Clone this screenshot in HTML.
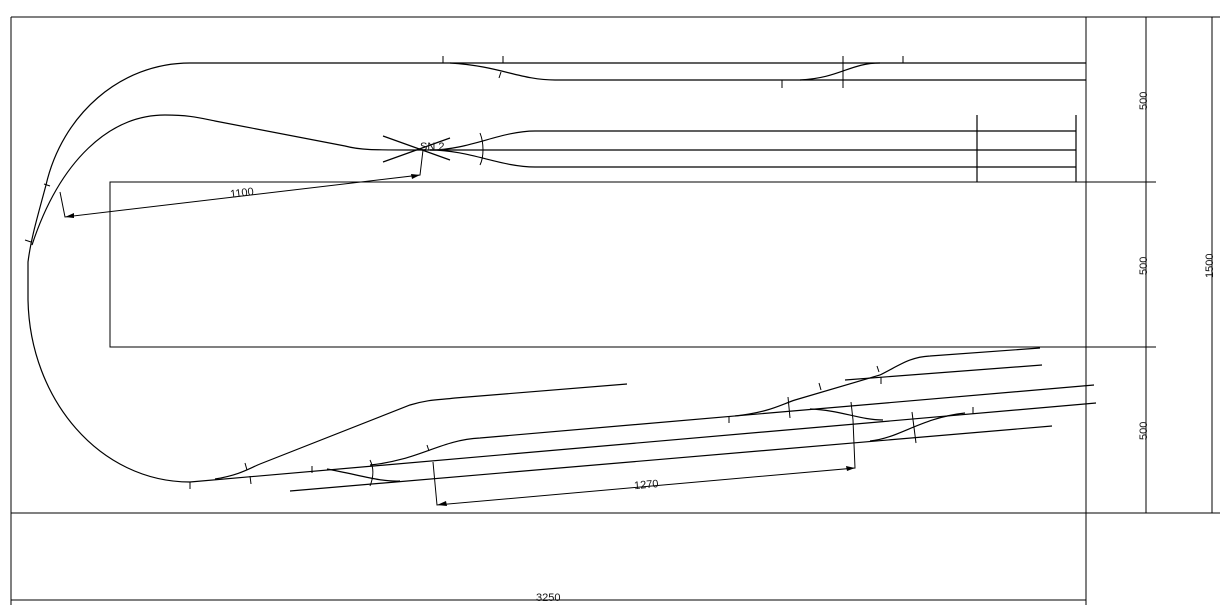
<!DOCTYPE html>
<html><head><meta charset="utf-8"><style>
html,body{margin:0;padding:0;background:#fff;}
svg{display:block;}
text{font-family:"Liberation Sans",sans-serif;font-size:11px;fill:#111;}
</style></head><body>
<svg width="1232" height="609" viewBox="0 0 1232 609" xmlns="http://www.w3.org/2000/svg">
<g fill="none" stroke="#000" stroke-width="1">
<!-- frame -->
<line x1="11" y1="17" x2="1220" y2="17"/>
<line x1="11" y1="513" x2="1220" y2="513"/>
<line x1="11" y1="17" x2="11" y2="605"/>
<line x1="1086" y1="17" x2="1086" y2="605"/>
<rect x="110" y="182" width="976" height="165"/>
<line x1="1086" y1="182" x2="1156" y2="182"/>
<line x1="1086" y1="347" x2="1156" y2="347"/>
<line x1="1146" y1="17" x2="1146" y2="513"/>
<line x1="1212" y1="17" x2="1212" y2="513"/>
<line x1="11" y1="600" x2="1086" y2="600"/>
</g>
<g fill="none" stroke="#000" stroke-width="1.2">
<!-- outer loop -->
<path d="M190,63 C120,63 62,115 46,185 C38,215 31,238 28,262 L28,300 C30,400 100,482 190,482"/>
<line x1="190" y1="63" x2="1086" y2="63"/>
<path d="M450,63 C500,66 520,80 555,80 L1086,80"/>
<path d="M800,80 C840,78 850,63 880,63"/>
<!-- inner loop -->
<path d="M32,245 C60,160 110,115 165,115 C190,115 200,118 215,121 L345,146 C360,150 370,150 420,150 L1076,150"/>
<path d="M430,150 C470,150 500,131 535,131 L1076,131"/>
<path d="M430,150 C470,150 500,167 535,167 L1076,167"/>
<line x1="383" y1="136" x2="450" y2="160"/>
<line x1="383" y1="162" x2="450" y2="138"/>
<line x1="977" y1="115" x2="977" y2="182"/>
<line x1="1076" y1="115" x2="1076" y2="182"/>
<!-- bottom tracks -->
<line x1="190" y1="482" x2="1096" y2="403"/>
<line x1="290" y1="491" x2="1052" y2="426"/>
<path d="M370,465 C420,460 440,440 480,438 L1094,385"/>
<path d="M215,479 C240,475 250,468 260,464 L410,405 C430,399 440,400 455,398 L627,384"/>
<path d="M327,469 C360,475 380,482 400,481"/>
<path d="M735,416 C770,412 780,405 795,400 L880,375 C900,365 910,357 930,356 L1040,348"/>
<line x1="845" y1="380" x2="1042" y2="365"/>
<path d="M810,409 C840,410 860,420 883,420"/>
<path d="M870,441 C900,438 920,418 965,413"/>
</g>
<g fill="none" stroke="#000" stroke-width="1">
<!-- ticks -->
<line x1="443" y1="56" x2="443" y2="63"/><line x1="503" y1="56" x2="503" y2="63"/>
<line x1="501" y1="72" x2="499" y2="78"/>
<line x1="843" y1="56" x2="843" y2="88"/><line x1="903" y1="56" x2="903" y2="63"/>
<line x1="782" y1="80" x2="782" y2="88"/>
<path d="M480,133 C484,143 484,157 480,165"/>
<line x1="44" y1="184" x2="50" y2="186"/>
<line x1="25" y1="240" x2="31" y2="242"/>
<line x1="190" y1="482" x2="190" y2="489"/>
<line x1="245" y1="463" x2="247" y2="470"/>
<line x1="250" y1="476" x2="251" y2="484"/>
<line x1="312" y1="466" x2="312" y2="473"/>
<path d="M370,460 C374,468 374,476 370,486"/>
<line x1="427" y1="445" x2="429" y2="451"/>
<line x1="729" y1="417" x2="729" y2="423"/>
<line x1="788" y1="397" x2="790" y2="418"/>
<line x1="819" y1="383" x2="821" y2="390"/>
<line x1="877" y1="366" x2="879" y2="372"/>
<line x1="881" y1="377" x2="881" y2="384"/>
<line x1="851" y1="402" x2="853" y2="420"/>
<line x1="912" y1="412" x2="916" y2="443"/>
<line x1="973" y1="407" x2="973" y2="414"/>
<!-- dimension 1100 -->
<polyline points="60,192 65,217 420,175 423,150"/>
<!-- dimension 1270 -->
<polyline points="433,462 437,505 855,468 853,420"/>
<!-- vertical dim ticks -->
<line x1="1142" y1="17" x2="1150" y2="17"/>
</g>
<g fill="#000">
<polygon points="65,217 74,213 74,218"/>
<polygon points="420,175 411,174 412,179"/>
<polygon points="437,505 446,501 447,506"/>
<polygon points="855,468 846,466 847,471"/>
</g>
<text x="420" y="150">SN 2</text>
<text x="230" y="196" transform="rotate(-7 245 192)">1100</text>
<text x="634" y="488" transform="rotate(-5 648 484)">1270</text>
<text x="536" y="601">3250</text>
<text transform="translate(1147,110) rotate(-90)">500</text>
<text transform="translate(1147,275) rotate(-90)">500</text>
<text transform="translate(1147,440) rotate(-90)">500</text>
<text transform="translate(1213,278) rotate(-90)">1500</text>
</svg>
</body></html>
